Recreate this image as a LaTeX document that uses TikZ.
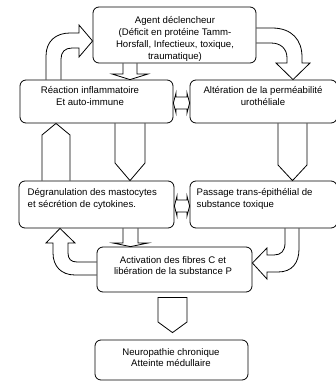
\documentclass[tikz,border=0pt]{standalone}
\usepackage{fontspec}
\setmainfont{Liberation Sans}
\usetikzlibrary{calc}
\begin{document}
\begin{tikzpicture}[x=1pt,y=-1pt,
  box/.style={draw, rounded corners=6pt, line width=0.8pt, inner sep=0pt},
  txt/.style={font=\fontsize{9.6}{11.8}\selectfont, align=center, inner sep=0pt},
  blk/.style={draw, line width=0.8pt, line join=miter}]
\fill[white] (0,0) rectangle (336,381);
\useasboundingbox (0,0) rectangle (336,381);
% boxes
\node[box, minimum width=163pt, minimum height=56pt] (agent) at (174.5,35) {};
\node[box, minimum width=153pt, minimum height=43pt] (reac) at (96.5,101.5) {};
\node[box, minimum width=147pt, minimum height=43pt] (alt) at (263.5,101.5) {};
\node[box, minimum width=155pt, minimum height=47pt] (degr) at (96.5,204.5) {};
\node[box, minimum width=147pt, minimum height=47pt] (pass) at (263.5,204.5) {};
\node[box, minimum width=155pt, minimum height=45pt] (act) at (174.5,269.5) {};
\node[box, minimum width=153pt, minimum height=40pt] (neuro) at (171.5,360) {};
% texts
\node[txt] (agentt) at (175,39) {Agent déclencheur\\(Déficit en protéine Tamm-\\Horsfall, Infectieux, toxique,\\traumatique)};
\node[txt] (react) at (90,96) {Réaction inflammatoire\\Et auto-immune};
\node[txt] (altt) at (263,96) {Altération de la perméabilité\\urothéliale};
\node[txt, align=left, anchor=west] (degrt) at (27.5,199) {Dégranulation des mastocytes\\et sécrétion de cytokines.};
\node[txt, align=left, anchor=west] (passt) at (196.5,199) {Passage trans-épithélial de\\substance toxique};
\node[txt] (actt) at (173,265.5) {Activation des fibres C et\\libération de la substance P};
\node[txt] (neurot) at (171,357.5) {Neuropathie chronique\\Atteinte médullaire};
% block arrows
% agent -> reac
\draw[blk] (123,0 |- agent.south) -- (123,74) -- (112,74) -- (130,0 |- reac.north) -- (148,74) -- (137,74) -- (137,0 |- agent.south);
% agent -> alt (curved)
\draw[blk] (agent.east |- 0,28) -- (272,28) .. controls (292,28) and (302,40) .. (302,57) -- (302,63) -- (310,63) -- (293,0 |- alt.north) -- (276,63) -- (287,63) -- (287,58) .. controls (287,49) and (281,43) .. (271,43) -- (agent.east |- 0,43);
% reac -> agent (curved)
\draw[blk] (46,0 |- reac.north) -- (46,56) .. controls (46,41) and (56,33) .. (70,33) -- (79,33) -- (79,25) -- (agent.west |- 0,41) -- (79,57) -- (79,48) -- (72,48) .. controls (65,48) and (61,52) .. (61,59) -- (61,0 |- reac.north);
% reac -> degr
\draw[blk] (115,0 |- reac.south) -- (115,163) -- (130,0 |- degr.north) -- (145,163) -- (145,0 |- reac.south);
% degr -> reac
\draw[blk] (42,0 |- degr.north) -- (42,135) -- (56,0 |- reac.south) -- (70,135) -- (70,0 |- degr.north);
% alt -> pass
\draw[blk] (278,0 |- alt.south) -- (278,165) -- (292.5,0 |- pass.north) -- (307,165) -- (307,0 |- alt.south);
% reac <-> alt
\draw[blk] (reac.east |- 0,103) -- (176,93) -- (176,97) -- (187,97) -- (187,93) -- (alt.west |- 0,103) -- (187,113) -- (187,109) -- (176,109) -- (176,113) -- cycle;
% degr <-> pass
\draw[blk] (degr.east |- 0,206) -- (177,196) -- (177,200) -- (187,200) -- (187,196) -- (pass.west |- 0,206) -- (187,216) -- (187,212) -- (177,212) -- (177,216) -- cycle;
% degr -> act
\draw[blk] (123,0 |- degr.south) -- (123,243) -- (113,243) -- (130.5,0 |- act.north) -- (148,243) -- (138,243) -- (138,0 |- degr.south);
% pass -> act (curved)
\draw[blk] (285,0 |- pass.south) -- (285,243) .. controls (285,251) and (281,255) .. (274,255) -- (267,255) -- (267,248) -- (act.east |- 0,263) -- (267,279) -- (267,272) -- (278,272) .. controls (292,272) and (299,263) .. (299,249) -- (299,0 |- pass.south);
% act -> degr (curved)
\draw[blk] (act.west |- 0,275) -- (75,275) .. controls (61,275) and (53,266) .. (53,253) -- (53,243) -- (46,243) -- (60,0 |- degr.south) -- (75,243) -- (68,243) -- (68,253) .. controls (68,259) and (71,262) .. (77,262) -- (act.west |- 0,262);
% act -> neuro
\draw[blk] ($(158,0 |- act.south)+(0,5)$) -- (158,322) -- ($(172.5,0 |- neuro.north)+(0,-7)$) -- (187,322) -- ($(187,0 |- act.south)+(0,5)$) -- cycle;
\end{tikzpicture}
\end{document}
